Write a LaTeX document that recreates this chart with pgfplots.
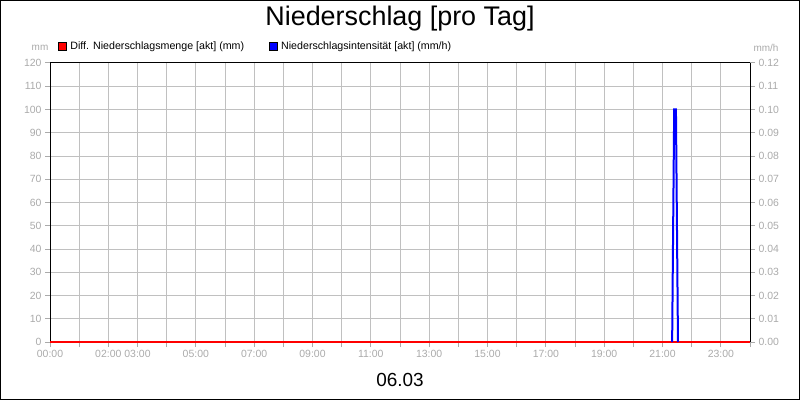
\documentclass[border=0pt]{standalone}
\usepackage{fontspec}
\setmainfont{Liberation Sans}
\usepackage{pgfplots}
\pgfplotsset{compat=1.18}

\definecolor{tickgray}{RGB}{170,170,170}
\definecolor{gridgray}{RGB}{192,192,192}

\pgfplotsset{
  common/.style={
    at={(50bp,58bp)}, anchor=south west,
    scale only axis, width=700bp, height=279bp,
    xmin=0, xmax=24,
    tick align=outside, major tick length=5bp,
    tick style={tickgray, line width=1bp},
    ticklabel style={font=\fontsize{10.5}{12}\selectfont, text=tickgray},
    /pgf/number format/assume math mode=true,
  }
}

\begin{document}
\begin{tikzpicture}[x=1bp,y=1bp]
\useasboundingbox (0,0) rectangle (800,400);
\draw[line width=1bp] (0.5,0.5) rectangle (799.5,399.5);
\node[font=\fontsize{27}{30}\selectfont] at (400,381) {Niederschlag [pro Tag]};
\node[font=\fontsize{19}{22}\selectfont] at (400,20) {06.03};
\node[font=\fontsize{10}{12}\selectfont, text=tickgray] at (40,352) {mm};
\node[font=\fontsize{10}{12}\selectfont, text=tickgray] at (766,352) {mm/h};

% left axis: Diff. Niederschlagsmenge (mm)
\begin{axis}[common,
  ymin=0, ymax=120,
  xtick={0,1,...,24},
  xticklabels={00:00,,02:00,03:00,,05:00,,07:00,,09:00,,11:00,,13:00,,15:00,,17:00,,19:00,,21:00,,23:00,},
  ytick={0,10,...,120},
  tick pos=left,
  grid=major, grid style={gridgray, line width=1bp},
  axis line style={black, line width=1bp},
  legend columns=2,
  legend image code/.code={\draw[#1, fill, draw=black, line width=0.5bp] (0bp,-4bp) rectangle (8bp,4bp);},
  legend style={draw=none, fill=none, inner sep=0pt, at={(0.011,1.082)}, anchor=north west,
    font=\fontsize{10.7}{12}\selectfont, nodes={inner sep=1.5bp},
    /tikz/every odd column/.append style={column sep=2.5bp},
    /tikz/every even column/.append style={column sep=23bp}},
]
\addplot[red, line width=1.5bp] coordinates {(0,0) (24,0)};
\addlegendentry{Diff. Niederschlagsmenge [akt] (mm)}
\addlegendimage{blue, line width=1.5bp}
\addlegendentry{Niederschlagsintensität [akt] (mm/h)}
\end{axis}

% right axis: Niederschlagsintensität (mm/h)
\begin{axis}[common,
  ymin=0, ymax=0.12,
  axis x line=none, axis y line*=right,
  axis line style={black, line width=1bp},
  ytick={0,0.01,0.02,0.03,0.04,0.05,0.06,0.07,0.08,0.09,0.10,0.11,0.12},
  yticklabel style={/pgf/number format/.cd, fixed, fixed zerofill, precision=2},
]
\addplot[blue, line width=2bp] coordinates {(21.33,0) (21.40,0.1) (21.46,0.1) (21.53,0)};
\end{axis}
\end{tikzpicture}
\end{document}
